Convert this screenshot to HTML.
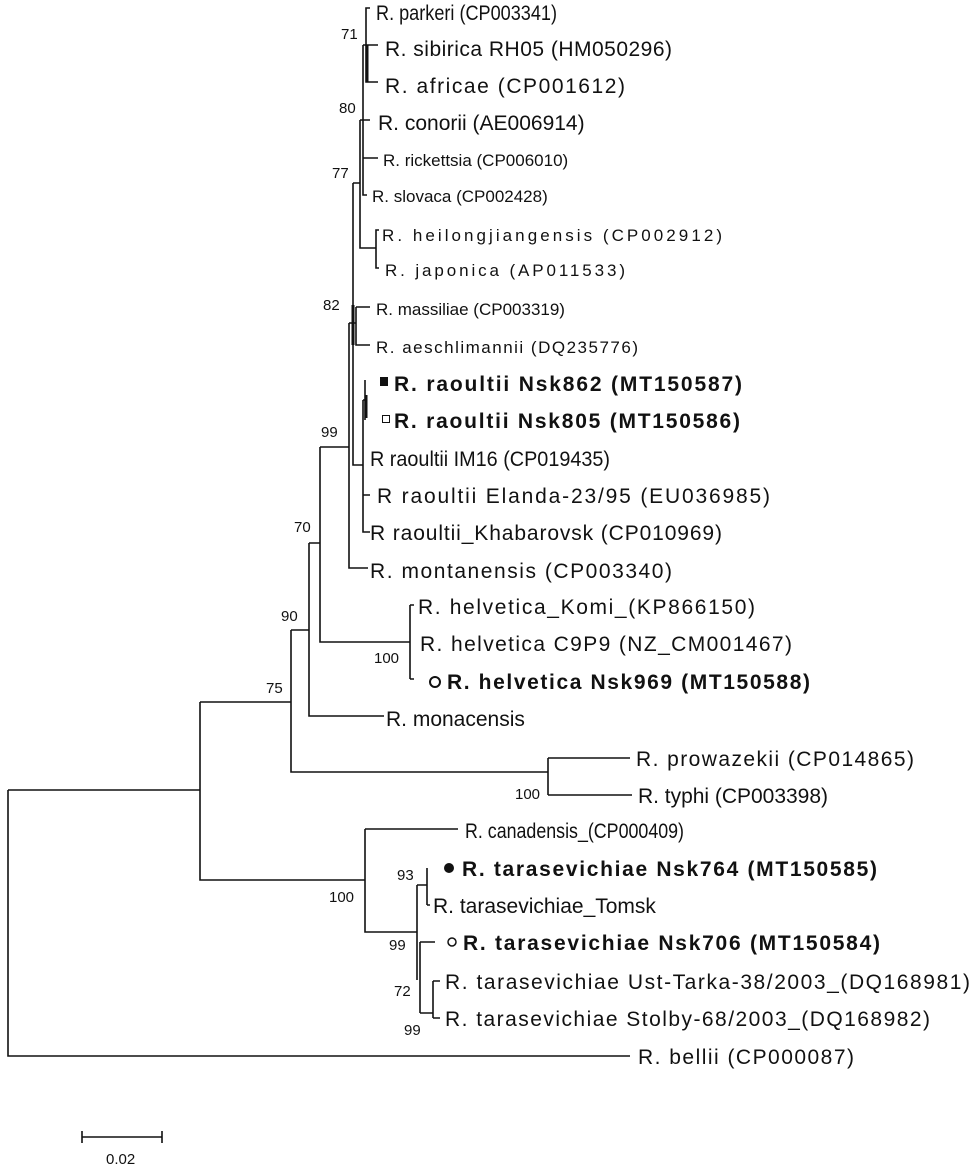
<!DOCTYPE html>
<html><head><meta charset="utf-8"><style>
html,body{margin:0;padding:0;background:#fff;}
svg{display:block;}
text{font-family:"Liberation Sans",Arial,sans-serif;fill:#111;}
.l{font-size:21px;}
.s{font-size:17px;}
.b{font-size:21px;font-weight:bold;}
.n{font-size:15px;}
</style></head><body>
<svg width="974" height="1168" viewBox="0 0 974 1168" xmlns="http://www.w3.org/2000/svg">
<g stroke="#111" stroke-width="1.6" fill="none">
<path d="M370 8H366V82H378M366 45H378"/>
<path d="M367 45V82" stroke-width="3"/>
<path d="M363 45H366M363 45V195H367M363 120H370M363 158H378"/>
<path d="M360 120H363M360 120V248H376M379 230H376V268H379"/>
<path d="M353 183H360M353 183V465H363"/>
<path d="M353 305V345" stroke-width="3"/>
<path d="M356 307H370M356 307V345H370M349 323H356"/>
<path d="M365 380V420" stroke-width="1.6"/>
<path d="M366 395V418" stroke-width="3"/>
<path d="M363 400V532H370M363 495H370M363 400H365"/>
<path d="M349 323V568H368"/>
<path d="M320 447H349M320 447V642H410M410 605V679M410 605H414M410 679H414"/>
<path d="M309 543H320M309 543V716H384"/>
<path d="M291 630H309M291 630V772H548M548 758V795M548 758H630M548 795H632"/>
<path d="M200 702H291M200 702V880H365"/>
<path d="M365 829V932H417M365 829H458"/>
<path d="M417 885V980M417 885H427M427 868V905M427 905H430"/>
<path d="M420 942V1013M420 942H435M420 1013H433M433 981V1018M433 981H440M433 1018H440"/>
<path d="M8 790H200M8 790V1056H630"/>
<path d="M82 1137H162M82 1131V1143M162 1131V1143"/>
</g>
<g>
<text class="l" x="376" y="20" textLength="181" lengthAdjust="spacingAndGlyphs">R. parkeri (CP003341)</text>
<text class="l" x="385" y="56" textLength="287" lengthAdjust="spacing">R. sibirica RH05 (HM050296)</text>
<text class="l" x="385" y="93" textLength="240" lengthAdjust="spacing">R. africae (CP001612)</text>
<text class="l" x="378" y="130">R. conorii (AE006914)</text>
<text class="s" x="383" y="166">R. rickettsia (CP006010)</text>
<text class="s" x="372" y="202">R. slovaca (CP002428)</text>
<text class="s" x="382" y="241" textLength="340" lengthAdjust="spacing">R. heilongjiangensis  (CP002912)</text>
<text class="s" x="385" y="276" textLength="240" lengthAdjust="spacing">R. japonica  (AP011533)</text>
<text class="s" x="376" y="315">R. massiliae (CP003319)</text>
<text class="s" x="376" y="353" textLength="262" lengthAdjust="spacing">R. aeschlimannii  (DQ235776)</text>
<rect x="380" y="377" width="8" height="9" fill="#111"/>
<text class="b" x="394" y="391" textLength="348" lengthAdjust="spacing">R. raoultii Nsk862  (MT150587)</text>
<rect x="382.5" y="415.5" width="7" height="7" fill="none" stroke="#111" stroke-width="1"/>
<text class="b" x="394" y="428" textLength="346" lengthAdjust="spacing">R. raoultii Nsk805  (MT150586)</text>
<text class="l" x="370" y="466" textLength="240" lengthAdjust="spacingAndGlyphs">R raoultii IM16 (CP019435)</text>
<text class="l" x="377" y="503" textLength="393" lengthAdjust="spacing">R raoultii Elanda-23/95  (EU036985)</text>
<text class="l" x="370" y="540" textLength="352" lengthAdjust="spacing">R raoultii_Khabarovsk  (CP010969)</text>
<text class="l" x="370" y="578" textLength="302" lengthAdjust="spacing">R. montanensis (CP003340)</text>
<text class="l" x="418" y="614" textLength="337" lengthAdjust="spacing">R. helvetica_Komi_(KP866150)</text>
<text class="l" x="420" y="651" textLength="372" lengthAdjust="spacing">R. helvetica  C9P9 (NZ_CM001467)</text>
<circle cx="435" cy="682" r="5" fill="none" stroke="#111" stroke-width="2"/>
<text class="b" x="447" y="689" textLength="363" lengthAdjust="spacing">R. helvetica Nsk969  (MT150588)</text>
<text class="l" x="386" y="726">R. monacensis</text>
<text class="l" x="636" y="766" textLength="278" lengthAdjust="spacing">R. prowazekii (CP014865)</text>
<text class="l" x="638" y="803" textLength="190" lengthAdjust="spacing">R. typhi (CP003398)</text>
<text class="l" x="465" y="838" textLength="219" lengthAdjust="spacingAndGlyphs">R. canadensis_(CP000409)</text>
<circle cx="449" cy="868" r="5" fill="#111"/>
<text class="b" x="462" y="876" textLength="415" lengthAdjust="spacing">R. tarasevichiae Nsk764  (MT150585)</text>
<text class="l" x="433" y="913">R. tarasevichiae_Tomsk</text>
<circle cx="452" cy="942" r="4" fill="none" stroke="#111" stroke-width="1.5"/>
<text class="b" x="463" y="950" textLength="417" lengthAdjust="spacing">R. tarasevichiae Nsk706  (MT150584)</text>
<text class="l" x="445" y="989" textLength="525" lengthAdjust="spacing">R. tarasevichiae  Ust-Tarka-38/2003_(DQ168981)</text>
<text class="l" x="445" y="1026" textLength="485" lengthAdjust="spacing">R. tarasevichiae  Stolby-68/2003_(DQ168982)</text>
<text class="l" x="638" y="1064" textLength="216" lengthAdjust="spacing">R. bellii (CP000087)</text>
</g>
<g>
<text class="n" x="341" y="39">71</text>
<text class="n" x="339" y="113">80</text>
<text class="n" x="332" y="178">77</text>
<text class="n" x="323" y="310">82</text>
<text class="n" x="321" y="437">99</text>
<text class="n" x="294" y="532">70</text>
<text class="n" x="281" y="621">90</text>
<text class="n" x="266" y="693">75</text>
<text class="n" x="374" y="663">100</text>
<text class="n" x="515" y="799">100</text>
<text class="n" x="329" y="902">100</text>
<text class="n" x="397" y="880">93</text>
<text class="n" x="389" y="950">99</text>
<text class="n" x="394" y="996">72</text>
<text class="n" x="404" y="1035">99</text>
<text class="n" x="106" y="1164">0.02</text>
</g>
</svg>
</body></html>
